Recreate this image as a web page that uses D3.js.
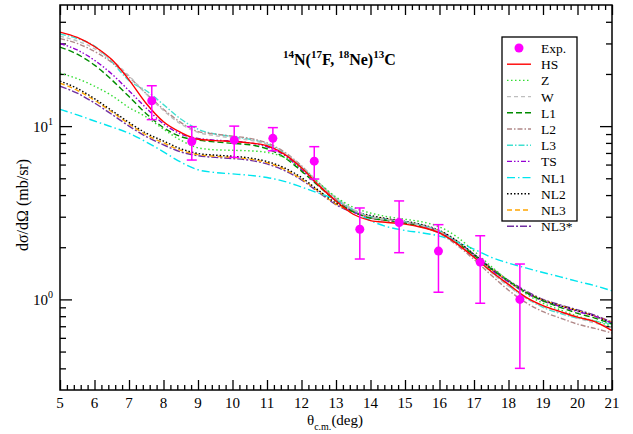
<!DOCTYPE html>
<html><head><meta charset="utf-8">
<script src="https://cdn.jsdelivr.net/npm/d3@7"></script>
<style>body{margin:0;background:#fff;} svg{display:block;} text{font-family:"Liberation Serif","Times New Roman",serif;}</style>
</head><body>
<svg id="c" width="633" height="434"></svg>
<script>
const theta = [5,5.5,6,6.5,7,7.5,8,8.5,9,9.5,10,10.5,11,11.5,12,12.5,13,13.5,14,14.5,15,15.5,16,16.5,17,17.5,18,18.5,19,19.5,20,20.5,21];
const HS  = [34.9,32.5,28.8,24.2,18.5,13.5,10.6,9.2,8.4,8.25,8.15,8.0,7.7,6.9,5.75,4.55,3.7,3.1,2.85,2.78,2.72,2.6,2.42,2.1,1.75,1.45,1.22,1.03,0.92,0.85,0.79,0.745,0.66];
const Z   = [20.2,18.8,17.0,15.0,12.8,11.3,9.6,8.3,7.5,7.3,7.25,7.2,7.05,6.6,5.7,4.7,3.9,3.4,3.15,3.0,2.9,2.8,2.62,2.3,1.9,1.55,1.28,1.08,0.95,0.87,0.8,0.75,0.7];
const W   = [33,31,28,24,19.5,15.3,12.3,10.3,9.2,8.8,8.55,8.3,7.85,7.0,5.85,4.7,3.85,3.3,3.0,2.88,2.8,2.66,2.45,2.12,1.75,1.43,1.19,1.02,0.91,0.84,0.78,0.73,0.69];
const L1  = [28.6,26,22.5,18.5,14.8,11.8,9.8,8.7,8.3,8.1,7.95,7.8,7.4,6.6,5.5,4.5,3.7,3.2,2.95,2.85,2.75,2.62,2.42,2.12,1.8,1.5,1.28,1.1,0.98,0.9,0.83,0.78,0.72];
const L2  = [32,30,27,23.3,19.2,15.4,12.5,10.5,9.3,9.0,8.75,8.5,8.0,7.1,5.9,4.7,3.8,3.25,2.95,2.85,2.77,2.63,2.4,2.06,1.7,1.38,1.13,0.96,0.85,0.78,0.72,0.68,0.64];
const L3  = [34,32,29,23.5,18.3,16.0,13.3,11.0,9.6,9.0,8.7,8.4,7.9,7.0,5.8,4.7,3.85,3.3,3.0,2.88,2.8,2.68,2.48,2.15,1.78,1.45,1.2,1.02,0.9,0.83,0.78,0.75,0.72];
const TS  = [30,27.5,24,20,16,12.7,10.3,9.0,8.5,8.3,8.2,8.0,7.6,6.8,5.6,4.55,3.7,3.2,2.95,2.85,2.77,2.65,2.44,2.12,1.78,1.48,1.26,1.09,0.98,0.91,0.85,0.8,0.73];
const NL1 = [12.5,11.6,10.7,9.9,9.1,8.1,7.1,6.2,5.6,5.4,5.3,5.2,5.05,4.8,4.45,4.1,3.75,3.25,2.85,2.62,2.5,2.42,2.32,2.15,1.95,1.75,1.62,1.52,1.43,1.35,1.27,1.2,1.12];
const NL2 = [18.2,16.5,14.4,12.3,10.5,9.1,8.2,7.4,6.95,6.8,6.7,6.55,6.25,5.75,5.05,4.25,3.6,3.25,3.05,2.92,2.82,2.7,2.5,2.18,1.82,1.5,1.27,1.1,0.99,0.92,0.86,0.8,0.73];
const NL3 = [17.7,16.1,14.1,12.1,10.3,8.9,8.0,7.25,6.85,6.7,6.6,6.45,6.15,5.65,4.95,4.2,3.55,3.2,3.0,2.9,2.8,2.68,2.48,2.16,1.8,1.5,1.27,1.1,0.99,0.92,0.86,0.8,0.74];
const NL3s= [17.0,15.5,13.6,11.7,10.0,8.7,7.8,7.1,6.75,6.6,6.5,6.35,6.05,5.55,4.9,4.15,3.52,3.18,3.0,2.9,2.8,2.68,2.48,2.17,1.82,1.52,1.29,1.12,1.0,0.93,0.87,0.81,0.74];

const expTheta = [7.66,8.82,10.05,11.17,12.37,13.69,14.83,15.97,17.18,18.33];
const expVal   = [14.0,8.15,8.3,8.5,6.28,2.54,2.78,1.9,1.64,1.0];
const expErr   = [3.1,1.78,1.7,1.3,1.33,0.83,0.92,0.8,0.69,0.6];

const seriesNames = ["HS","Z","W","L1","L2","L3","TS","NL1","NL2","NL3","NL3*"];
const xMajor = [5,6,7,8,9,10,11,12,13,14,15,16,17,18,19,20,21];
const yMajor = [1,10];
const yMajorLabels = ["10","10"];
const yMajorExp = ["0","1"];

const series = [
  {name:"HS", v:HS, color:"#ff0000", dash:null},
  {name:"Z", v:Z, color:"#33dd33", dash:"1.5,2.5"},
  {name:"W", v:W, color:"#bebebe", dash:"4,3"},
  {name:"L1", v:L1, color:"#008b00", dash:"6,3"},
  {name:"L2", v:L2, color:"#b08888", dash:"5,2,1.5,2"},
  {name:"L3", v:L3, color:"#40e0d0", dash:"6,2,1.5,2"},
  {name:"TS", v:TS, color:"#9400d3", dash:"5,2,1.5,2,1.5,2"},
  {name:"NL1", v:NL1, color:"#00e5ee", dash:"8,3,1.5,3"},
  {name:"NL2", v:NL2, color:"#000000", dash:"1.5,2"},
  {name:"NL3", v:NL3, color:"#ffa500", dash:"5,3"},
  {name:"NL3*", v:NL3s, color:"#7030a0", dash:"7,2,2,2"}
];

const svg = d3.select("#c");
const L=60, R=612, T=5, B=390;
const x = d3.scaleLinear().domain([5,21]).range([L,R]);
const y = d3.scaleLog().domain([0.3,50]).range([B,T]);

const clip = svg.append("defs").append("clipPath").attr("id","pc");
clip.append("rect").attr("x",L).attr("y",T).attr("width",R-L).attr("height",B-T);

const xMinor = d3.range(5,21.001,0.2).map(d=>+d.toFixed(1)).filter(d=>Math.abs(d-Math.round(d))>1e-6);
const yMinor = [0.4,0.5,0.6,0.7,0.8,0.9,2,3,4,5,6,7,8,9,20,30,40];

function styleAxis(g){ g.select(".domain").remove(); g.selectAll("line").attr("stroke","#000").attr("stroke-width",1.3); g.selectAll("text").remove(); }

svg.append("g").attr("transform",`translate(0,${B})`).call(d3.axisBottom(x).tickValues(xMajor).tickSize(-10)).call(styleAxis);
svg.append("g").attr("transform",`translate(0,${B})`).call(d3.axisBottom(x).tickValues(xMinor).tickSize(-5)).call(styleAxis);
svg.append("g").attr("transform",`translate(0,${T})`).call(d3.axisTop(x).tickValues(xMajor).tickSize(-10)).call(styleAxis);
svg.append("g").attr("transform",`translate(0,${T})`).call(d3.axisTop(x).tickValues(xMinor).tickSize(-5)).call(styleAxis);
svg.append("g").attr("transform",`translate(${L},0)`).call(d3.axisLeft(y).tickValues(yMajor).tickSize(-12)).call(styleAxis);
svg.append("g").attr("transform",`translate(${L},0)`).call(d3.axisLeft(y).tickValues(yMinor).tickSize(-6)).call(styleAxis);
svg.append("g").attr("transform",`translate(${R},0)`).call(d3.axisRight(y).tickValues(yMajor).tickSize(-12)).call(styleAxis);
svg.append("g").attr("transform",`translate(${R},0)`).call(d3.axisRight(y).tickValues(yMinor).tickSize(-6)).call(styleAxis);

// x tick labels
svg.append("g").selectAll("text").data(xMajor).join("text")
  .attr("x",d=>x(d)).attr("y",B+18).attr("text-anchor","middle")
  .attr("font-size",15).text(d=>d);
// y tick labels
const yl = svg.append("g").selectAll("text").data(yMajor).join("text")
  .attr("x",L-7).attr("y",d=>y(d)+6).attr("text-anchor","end")
  .attr("font-size",15);
yl.append("tspan").text((d,i)=>yMajorLabels[i]);
yl.append("tspan").attr("dy",-7).attr("font-size",10).text((d,i)=>yMajorExp[i]);

// curves
const line = d3.line().x((d,i)=>x(theta[i])).y(d=>y(d)).curve(d3.curveMonotoneX);
const cg = svg.append("g").attr("clip-path","url(#pc)");
series.slice().reverse().forEach(s=>{
  cg.append("path").attr("d",line(s.v)).attr("fill","none").attr("stroke",s.color)
    .attr("stroke-width",1.4).attr("stroke-dasharray",s.dash);
});

// exp data
const eg = svg.append("g");
expTheta.forEach((t,i)=>{
  const cx=x(t), y1=y(expVal[i]+expErr[i]), y2=y(expVal[i]-expErr[i]);
  eg.append("line").attr("x1",cx).attr("x2",cx).attr("y1",y1).attr("y2",y2).attr("stroke","#ff00ff").attr("stroke-width",1.5);
  eg.append("line").attr("x1",cx-5).attr("x2",cx+5).attr("y1",y1).attr("y2",y1).attr("stroke","#ff00ff").attr("stroke-width",1.5);
  eg.append("line").attr("x1",cx-5).attr("x2",cx+5).attr("y1",y2).attr("y2",y2).attr("stroke","#ff00ff").attr("stroke-width",1.5);
  eg.append("circle").attr("cx",cx).attr("cy",y(expVal[i])).attr("r",4.5).attr("fill","#ff00ff");
});

// frame
svg.append("rect").attr("x",L).attr("y",T).attr("width",R-L).attr("height",B-T).attr("fill","none").attr("stroke","#000").attr("stroke-width",1.5);

// legend
const lg = svg.append("g");
lg.append("rect").attr("x",502).attr("y",37).attr("width",75).attr("height",184).attr("fill","#fff").attr("stroke","#000").attr("stroke-width",1.3);
const rowY = i => 48 + i*16.2;
lg.append("circle").attr("cx",519).attr("cy",rowY(0)).attr("r",4.5).attr("fill","#ff00ff");
lg.append("text").attr("x",541).attr("y",rowY(0)+5).attr("font-size",13.5).text("Exp.");
series.forEach((s,i)=>{
  const yy=rowY(i+1);
  lg.append("line").attr("x1",507).attr("x2",531).attr("y1",yy).attr("y2",yy).attr("stroke",s.color).attr("stroke-width",1.4).attr("stroke-dasharray",s.dash);
  lg.append("text").attr("x",541).attr("y",yy+5).attr("font-size",13.5).text(s.name);
});

// title
const tt = svg.append("text").attr("x",283).attr("y",65).attr("font-weight","bold").attr("font-size",16);
const parts = [["14",1],["N(",0],["17",1],["F, ",0],["18",1],["Ne)",0],["13",1],["C",0]];
let sup=false;
parts.forEach(([t,s])=>{
  const ts = tt.append("tspan").text(t);
  if(s && !sup){ ts.attr("dy",-7).attr("font-size",11); sup=true; }
  else if(s){ ts.attr("font-size",11); }
  else if(sup){ ts.attr("dy",7); sup=false; }
});

// axis titles
const xt = svg.append("text").attr("x",335).attr("y",425).attr("text-anchor","middle").attr("font-size",15);
xt.append("tspan").text("θ");
xt.append("tspan").attr("dy",5).attr("font-size",10).text("c.m.");
xt.append("tspan").attr("dy",-5).text("(deg)");

svg.append("text").attr("transform","translate(28,205) rotate(-90)").attr("text-anchor","middle")
  .attr("font-size",16).text("dσ/dΩ (mb/sr)");
</script>
</body></html>
